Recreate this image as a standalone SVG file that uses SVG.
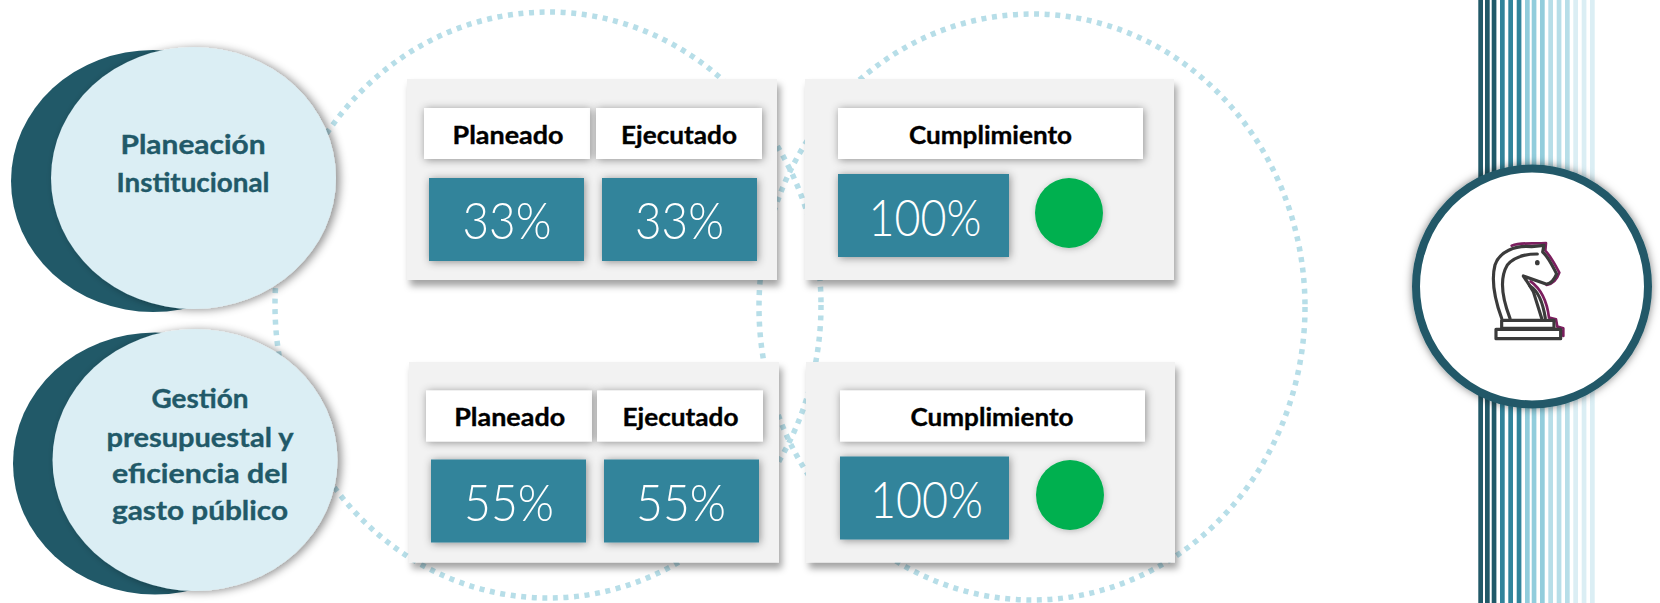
<svg xmlns="http://www.w3.org/2000/svg" width="1660" height="603" viewBox="0 0 1660 603">
<defs>
<style>
.dot{fill:none;stroke:#B7DEE8;stroke-width:5.5;stroke-dasharray:5 5.6}
.panel{fill:#F2F2F2;filter:url(#sp)}
.hd{fill:#fff;filter:url(#sh)}
.val{fill:#31849B;filter:url(#sh)}
.gr{fill:#00B050;filter:url(#sg)}
.d{fill:#215968}
.l{fill:#DBEEF4;filter:url(#se)}
text{font-family:"Lato","Liberation Sans",sans-serif;text-anchor:middle}
.ht{font-size:24px;font-weight:700;fill:#000;stroke:#000;stroke-width:.35px}
.vt{font-size:51px;font-weight:300;fill:#fff}
.ct{font-size:26px;font-weight:700;fill:#215968;stroke:#215968;stroke-width:.35px}
.k{fill:none;stroke-width:9.5;stroke-linejoin:round;stroke-linecap:round;stroke:#3B3B3B}
.km{fill:none;stroke-width:8;stroke-linejoin:round;stroke-linecap:round;stroke:#7B1E5E}
</style>
<filter id="sp" x="-5%" y="-5%" width="112%" height="122%"><feDropShadow dx="3" dy="6" stdDeviation="3.5" flood-color="#000" flood-opacity="0.36"/></filter>
<filter id="sh" x="-10%" y="-25%" width="120%" height="155%"><feDropShadow dx="1" dy="1" stdDeviation="4" flood-color="#000" flood-opacity="0.42"/></filter>
<filter id="sg" x="-20%" y="-20%" width="140%" height="140%"><feDropShadow dx="1" dy="1" stdDeviation="3" flood-color="#000" flood-opacity="0.25"/></filter>
<filter id="se" x="-5%" y="-5%" width="112%" height="112%"><feDropShadow dx="4" dy="1" stdDeviation="4" flood-color="#000" flood-opacity="0.42"/></filter>
<filter id="sr" x="-10%" y="-10%" width="120%" height="120%"><feDropShadow dx="0" dy="0" stdDeviation="4.5" flood-color="#000" flood-opacity="0.5"/></filter>
</defs>
<g id="dotted-circles">
<ellipse class="dot" cx="548" cy="305" rx="273" ry="293"/>
<ellipse class="dot" cx="1032" cy="307" rx="273" ry="293"/>
</g>
<g id="stripes">
<path fill="#215968" d="M1478.3 0h4.7v603h-4.7zM1485 0h4.7v603h-4.7zM1491.7 0h4.7v603h-4.7z"/>
<path fill="#31849B" d="M1500 0h4.7v603h-4.7zM1508.3 0h4.7v603h-4.7zM1516.7 0h4.7v603h-4.7z"/>
<path fill="#92CDDC" d="M1525 0h4.7v603h-4.7zM1531.7 0h4.7v603h-4.7zM1540 0h4.7v603h-4.7z"/>
<path fill="#B7DEE8" d="M1548.3 0h4.7v603h-4.7zM1556.7 0h4.7v603h-4.7zM1565 0h4.7v603h-4.7z"/>
<path fill="#DBEEF4" d="M1573.3 0h4.7v603h-4.7zM1581.7 0h4.7v603h-4.7zM1590 0h4.7v603h-4.7z"/>
</g>
<g id="node-planeacion">
<ellipse class="d" cx="153" cy="181" rx="142" ry="131"/>
<ellipse class="l" cx="193.5" cy="178" rx="142.5" ry="131"/>
<text class="ct" x="193" y="154" textLength="145" lengthAdjust="spacingAndGlyphs">Planeación</text>
<text class="ct" x="193" y="192" textLength="153" lengthAdjust="spacingAndGlyphs">Institucional</text>
</g>
<g id="node-gestion">
<ellipse class="d" cx="155" cy="463.5" rx="142" ry="131"/>
<ellipse class="l" cx="195" cy="460" rx="142.5" ry="131"/>
<text class="ct" x="200" y="408" textLength="97" lengthAdjust="spacingAndGlyphs">Gestión</text>
<text class="ct" x="200" y="446.5" textLength="187" lengthAdjust="spacingAndGlyphs">presupuestal y</text>
<text class="ct" x="200" y="483" textLength="176" lengthAdjust="spacingAndGlyphs">eficiencia del</text>
<text class="ct" x="200" y="520" textLength="176" lengthAdjust="spacingAndGlyphs">gasto público</text>
</g>
<g id="panel-1a">
<rect class="panel" x="407" y="79" width="370" height="201"/>
<rect class="hd" x="424" y="108" width="166" height="51"/>
<rect class="hd" x="596" y="108" width="166" height="51"/>
<text class="ht" x="508" y="144" textLength="111" lengthAdjust="spacingAndGlyphs">Planeado</text>
<text class="ht" x="679" y="144" textLength="116" lengthAdjust="spacingAndGlyphs">Ejecutado</text>
<rect class="val" x="429" y="178" width="155" height="83"/>
<rect class="val" x="602" y="178" width="155" height="83"/>
<text class="vt" x="507" y="239" textLength="89" lengthAdjust="spacingAndGlyphs">33%</text>
<text class="vt" x="679.5" y="239" textLength="89" lengthAdjust="spacingAndGlyphs">33%</text>
</g>
<g id="panel-1b">
<rect class="panel" x="805" y="79" width="369" height="201"/>
<rect class="hd" x="838" y="108" width="305" height="51"/>
<text class="ht" x="990.5" y="144" textLength="163" lengthAdjust="spacingAndGlyphs">Cumplimiento</text>
<rect class="val" x="838" y="174" width="171" height="83"/>
<text class="vt" x="925" y="235.5" textLength="113" lengthAdjust="spacingAndGlyphs">100%</text>
<ellipse class="gr" cx="1069" cy="213" rx="34" ry="35"/>
</g>
<g id="panel-2a">
<rect class="panel" x="409" y="362" width="370" height="200.5"/>
<rect class="hd" x="426" y="390.5" width="166" height="51"/>
<rect class="hd" x="597" y="390.5" width="166" height="51"/>
<text class="ht" x="509.7" y="426" textLength="111" lengthAdjust="spacingAndGlyphs">Planeado</text>
<text class="ht" x="680.5" y="426" textLength="116" lengthAdjust="spacingAndGlyphs">Ejecutado</text>
<rect class="val" x="431" y="459.5" width="155" height="83"/>
<rect class="val" x="604" y="459.5" width="155" height="83"/>
<text class="vt" x="509" y="521" textLength="90" lengthAdjust="spacingAndGlyphs">55%</text>
<text class="vt" x="681" y="521" textLength="90" lengthAdjust="spacingAndGlyphs">55%</text>
</g>
<g id="panel-2b">
<rect class="panel" x="806" y="362" width="369" height="200.5"/>
<rect class="hd" x="840" y="390.5" width="305" height="51"/>
<text class="ht" x="992" y="426" textLength="163" lengthAdjust="spacingAndGlyphs">Cumplimiento</text>
<rect class="val" x="840" y="456.5" width="169" height="83"/>
<text class="vt" x="926.5" y="518" textLength="113" lengthAdjust="spacingAndGlyphs">100%</text>
<ellipse class="gr" cx="1070" cy="495" rx="34" ry="35"/>
</g>
<g id="knight-node">
<ellipse cx="1532" cy="286.5" rx="116" ry="118" fill="#fff" stroke="#215968" stroke-width="8" filter="url(#sr)"/>
<g transform="translate(1400 150) scale(.3333)">
<path class="km" d="M335 287C365 276 400 282 438 279L436 302C452 318 466 345 478 368C470 392 458 402 440 405M392 394C425 418 442 460 447 503L468 508L472 530L490 535L490 558"/>
<path class="k" d="M305 505C285 450 272 395 285 345C298 305 345 285 395 290L432 286L428 306C446 322 456 345 470 372C460 395 450 403 438 402L370 378C385 400 392 412 400 425L425 505"/>
<path class="k" d="M330 505C305 440 298 385 322 345C342 322 375 312 412 312"/>
<path class="k" d="M390 408C418 425 430 465 436 505"/>
<path class="k" d="M305 511H462V535H305Z"/>
<path class="k" d="M288 538H482V566H288Z"/>
<ellipse cx="412" cy="338" rx="7" ry="8" fill="#3B3B3B"/>
</g>
</g>
</svg>
